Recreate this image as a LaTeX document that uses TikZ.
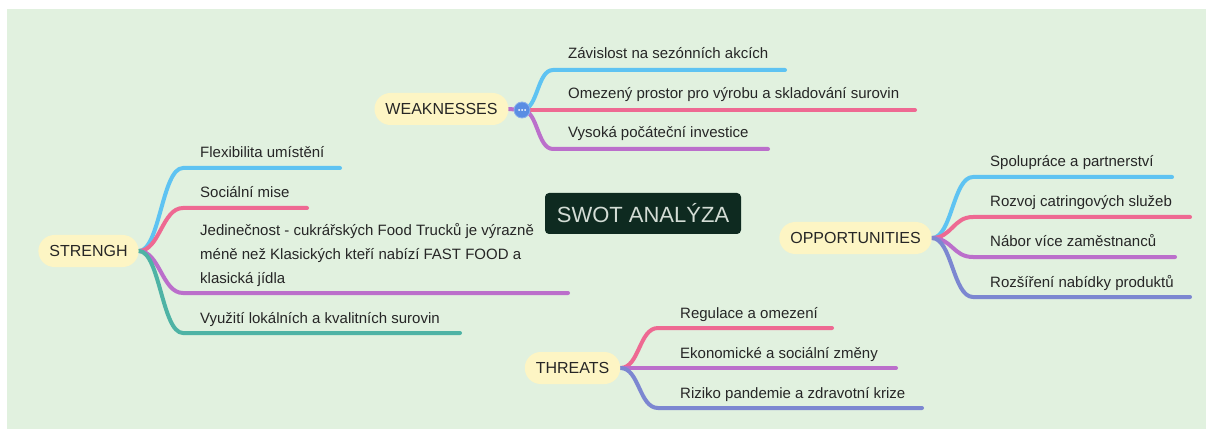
\documentclass[tikz,border=0pt]{standalone}
\usepackage{fontspec}
\setmainfont{Liberation Sans}
\definecolor{bgc}{HTML}{E1F1DF}
\definecolor{pillc}{HTML}{FDF5C4}
\definecolor{txt}{HTML}{262626}
\definecolor{swotc}{HTML}{0E2A20}
\definecolor{swott}{HTML}{D3DCD5}
\definecolor{cBlue}{HTML}{5EC3F2}
\definecolor{cPink}{HTML}{EE6992}
\definecolor{cPurple}{HTML}{BB6FCB}
\definecolor{cTeal}{HTML}{4EB3A5}
\definecolor{cIndigo}{HTML}{7C87D1}
\definecolor{dotc}{HTML}{5A8DE3}
\pgfdeclarelayer{back}
\pgfdeclarelayer{mid}
\pgfsetlayers{back,mid,main}
\begin{document}
\begin{tikzpicture}[x=1pt,y=-1pt,
  pill/.style={fill=pillc, rounded corners=16pt, minimum height=32pt, inner xsep=11pt, text=txt, font=\fontsize{16}{19}\selectfont},
  leaf/.style={anchor=base west, inner sep=0pt, text=txt, font=\fontsize{15}{24}\selectfont},
  br/.style={line width=4pt, line cap=round, line join=round},
]
\useasboundingbox (0,0) rectangle (1206,430);
\begin{pgfonlayer}{back}
\fill[bgc] (7,9) rectangle (1206,429);
\end{pgfonlayer}

% central topic
\node[fill=swotc, text=swott, rounded corners=4pt, minimum width=196pt, minimum height=41pt, inner sep=0pt, font=\fontsize{22}{26}\selectfont] (C) at (643,213.5) {SWOT ANALÝZA};

% main topics
\node[pill] (S) at (88.5,251) {STRENGH};
\node[pill] (W) at (441.5,109) {WEAKNESSES};
\node[pill] (O) at (855.5,238) {OPPORTUNITIES};
\node[pill] (T) at (572.5,368) {THREATS};

% ---- STRENGH
\node[leaf] (s1) at (200,158) {Flexibilita umístění};
\node[leaf] (s2) at (200,198) {Sociální mise};
\node[leaf, anchor=south west, align=left, text depth=0pt] (s3) at (200,284) {Jedinečnost - cukrářských Food Trucků je výrazně\\méně než Klasických kteří nabízí FAST FOOD a\\klasická jídla};
\node[leaf] (s4) at (200,323) {Využití lokálních a kvalitních surovin};
\coordinate (s1a) at (183,168); \coordinate (s1b) at (340,168);
\coordinate (s2a) at (183,208); \coordinate (s2b) at (307,208);
\coordinate (s3a) at (183,293); \coordinate (s3b) at (568,293);
\coordinate (s4a) at (183,333); \coordinate (s4b) at (460,333);

% ---- WEAKNESSES
\node[circle, fill=dotc, draw=dotc!70!white, line width=0.8pt, minimum size=16pt, inner sep=0pt] (D) at (522,110) {};
\fill[white] ([xshift=-3pt]D.center) circle (1pt) (D.center) circle (1pt) ([xshift=3pt]D.center) circle (1pt);
\node[leaf] (w1) at (568,59) {Závislost na sezónních akcích};
\node[leaf] (w2) at (568,99) {Omezený prostor pro výrobu a skladování surovin};
\node[leaf] (w3) at (568,138) {Vysoká počáteční investice};
\coordinate (w1a) at (553,70); \coordinate (w1b) at (785,70);
\coordinate (w2b) at (915,110);
\coordinate (w3a) at (553,149); \coordinate (w3b) at (768,149);

% ---- OPPORTUNITIES
\node[leaf] (o1) at (990,167) {Spolupráce a partnerství};
\node[leaf] (o2) at (990,207) {Rozvoj catringových služeb};
\node[leaf] (o3) at (990,247) {Nábor více zaměstnanců};
\node[leaf] (o4) at (990,287) {Rozšíření nabídky produktů};
\coordinate (o1a) at (973,177); \coordinate (o1b) at (1172,177);
\coordinate (o2a) at (973,217); \coordinate (o2b) at (1190,217);
\coordinate (o3a) at (973,257); \coordinate (o3b) at (1175,257);
\coordinate (o4a) at (973,297); \coordinate (o4b) at (1190,297);

% ---- THREATS
\node[leaf] (t1) at (680,318) {Regulace a omezení};
\node[leaf] (t2) at (680,358) {Ekonomické a sociální změny};
\node[leaf] (t3) at (680,398) {Riziko pandemie a zdravotní krize};
\coordinate (t1a) at (658,328); \coordinate (t1b) at (832,328);
\coordinate (t2b) at (896,368);
\coordinate (t3a) at (658,408); \coordinate (t3b) at (922,408);

\begin{pgfonlayer}{mid}
\draw[br,cBlue]   (S.east) .. controls +(21,0) and +(-21,0) .. (s1a) -- (s1b);
\draw[br,cPink]   (S.east) .. controls +(21,0) and +(-21,0) .. (s2a) -- (s2b);
\draw[br,cPurple] (S.east) .. controls +(21,0) and +(-21,0) .. (s3a) -- (s3b);
\draw[br,cTeal]   (S.east) .. controls +(21,0) and +(-21,0) .. (s4a) -- (s4b);

\draw[br,cPurple] (W.east) -- (D.center);
\draw[br,cBlue]   (D.center) .. controls +(16,0) and +(-16,0) .. (w1a) -- (w1b);
\draw[br,cPink]   (D.center) -- (w2b);
\draw[br,cPurple] (D.center) .. controls +(16,0) and +(-16,0) .. (w3a) -- (w3b);

\draw[br,cBlue]   (O.east) .. controls +(20,0) and +(-20,0) .. (o1a) -- (o1b);
\draw[br,cPink]   (O.east) .. controls +(20,0) and +(-20,0) .. (o2a) -- (o2b);
\draw[br,cPurple] (O.east) .. controls +(20,0) and +(-20,0) .. (o3a) -- (o3b);
\draw[br,cIndigo] (O.east) .. controls +(20,0) and +(-20,0) .. (o4a) -- (o4b);

\draw[br,cPink]   (T.east) .. controls +(19,0) and +(-19,0) .. (t1a) -- (t1b);
\draw[br,cPurple] (T.east) -- (t2b);
\draw[br,cIndigo] (T.east) .. controls +(19,0) and +(-19,0) .. (t3a) -- (t3b);
\end{pgfonlayer}
\end{tikzpicture}
\end{document}
